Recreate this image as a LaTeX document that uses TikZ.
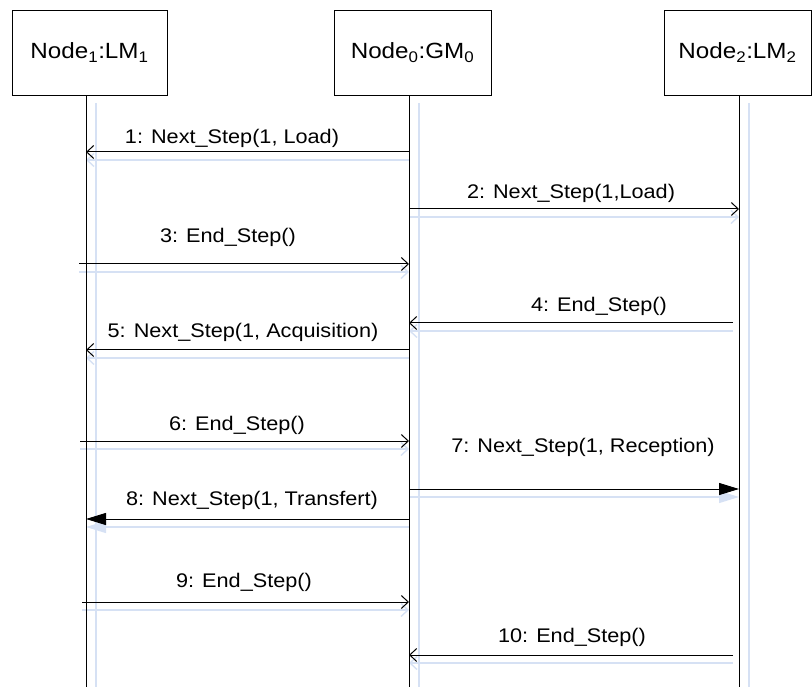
\documentclass[tikz,border=0pt]{standalone}
\usepackage{fontspec}
\setmainfont[FakeStretch=1.1]{Liberation Sans}
\usetikzlibrary{arrows.meta}

\definecolor{shadowblue}{RGB}{214,225,244}

\tikzset{
  objbox/.style={draw, line width=0.9pt, minimum height=85pt, inner sep=0pt, font=\fontsize{22}{26}\selectfont},
  lifeline/.style={line width=1pt},
  lifeshadow/.style={draw=shadowblue, line width=1.4pt},
  call/.style={line width=1pt, -{Straight Barb[length=7pt,width=13pt]}},
  signal/.style={line width=1pt, -{Triangle[length=20pt,width=12pt]}},
  callshadow/.style={call, draw=shadowblue, line width=1.4pt, shift={(10,8)}},
  signalshadow/.style={signal, draw=shadowblue, fill=shadowblue, line width=1.4pt, shift={(10,8)}},
  msglabel/.style={font=\fontsize{19.7}{22}\selectfont, inner sep=0pt},
}

\begin{document}
\begin{tikzpicture}[%
x=1pt, y=-1pt,
]
\useasboundingbox (0,0) rectangle (812,687);
%% objects;
\node [objbox, minimum width=155pt] (lm1) at (89.5,52.5) {Node\textsubscript{1}:LM\textsubscript{1}};
\node [objbox, minimum width=157pt] (gm0) at (412.5,52.5) {Node\textsubscript{0}:GM\textsubscript{0}};
\node [objbox, minimum width=147pt] (lm2) at (737.5,52.5) {Node\textsubscript{2}:LM\textsubscript{2}};
%% lifeline tops;
\coordinate (ll1) at (86,95);
\coordinate (ll0) at (409,95);
\coordinate (ll2) at (739,95);
\coordinate (bot) at (0,687);
%% lifeline shadows;
\draw [lifeshadow] ([xshift=10pt,yshift=-8pt]ll1) -- ([xshift=10pt]ll1 |- bot);
\draw [lifeshadow] ([xshift=10pt,yshift=-8pt]ll0) -- ([xshift=10pt]ll0 |- bot);
\draw [lifeshadow] ([xshift=10pt,yshift=-8pt]ll2) -- ([xshift=10pt]ll2 |- bot);
%% message shadows;
\draw [callshadow] (ll0 |- 0,152) -- (ll1 |- 0,152);
\draw [callshadow] (ll0 |- 0,209) -- (ll2 |- 0,209);
\draw [callshadow] ([xshift=-7pt]ll1 |- 0,264) -- (ll0 |- 0,264);
\draw [callshadow] ([xshift=-6pt]ll2 |- 0,323) -- (ll0 |- 0,323);
\draw [callshadow] (ll0 |- 0,350) -- (ll1 |- 0,350);
\draw [callshadow] ([xshift=-6pt]ll1 |- 0,441) -- (ll0 |- 0,441);
\draw [signalshadow] (ll0 |- 0,489) -- (ll2 |- 0,489);
\draw [signalshadow] (ll0 |- 0,519) -- (ll1 |- 0,519);
\draw [callshadow] ([xshift=-4pt]ll1 |- 0,602) -- (ll0 |- 0,602);
\draw [callshadow] ([xshift=-6pt]ll2 |- 0,655) -- (ll0 |- 0,655);
%% lifelines;
\draw [lifeline] (lm1.south -| ll1) -- (ll1 |- bot);
\draw [lifeline] (gm0.south -| ll0) -- (ll0 |- bot);
\draw [lifeline] (lm2.south -| ll2) -- (ll2 |- bot);
%% messages;
\draw [call] (ll0 |- 0,152) -- (ll1 |- 0,152);
\node [msglabel] (m1) at (232,138) {1: Next\_Step(1, Load)};
\draw [call] (ll0 |- 0,209) -- (ll2 |- 0,209);
\node [msglabel] (m2) at (571,193) {2: Next\_Step(1,Load)};
\draw [call] ([xshift=-7pt]ll1 |- 0,264) -- (ll0 |- 0,264);
\node [msglabel] (m3) at (228,237) {3: End\_Step()};
\draw [call] ([xshift=-6pt]ll2 |- 0,323) -- (ll0 |- 0,323);
\node [msglabel] (m4) at (599,306) {4: End\_Step()};
\draw [call] (ll0 |- 0,350) -- (ll1 |- 0,350);
\node [msglabel] (m5) at (243,332) {5: Next\_Step(1, Acquisition)};
\draw [call] ([xshift=-6pt]ll1 |- 0,441) -- (ll0 |- 0,441);
\node [msglabel] (m6) at (237,425) {6: End\_Step()};
\draw [signal] (ll0 |- 0,489) -- (ll2 |- 0,489);
\node [msglabel] (m7) at (583,447) {7: Next\_Step(1, Reception)};
\draw [signal] (ll0 |- 0,519) -- (ll1 |- 0,519);
\node [msglabel] (m8) at (252,500) {8: Next\_Step(1, Transfert)};
\draw [call] ([xshift=-4pt]ll1 |- 0,602) -- (ll0 |- 0,602);
\node [msglabel] (m9) at (244,582) {9: End\_Step()};
\draw [call] ([xshift=-6pt]ll2 |- 0,655) -- (ll0 |- 0,655);
\node [msglabel] (m10) at (572,637) {10: End\_Step()};
\end{tikzpicture}
\end{document}
